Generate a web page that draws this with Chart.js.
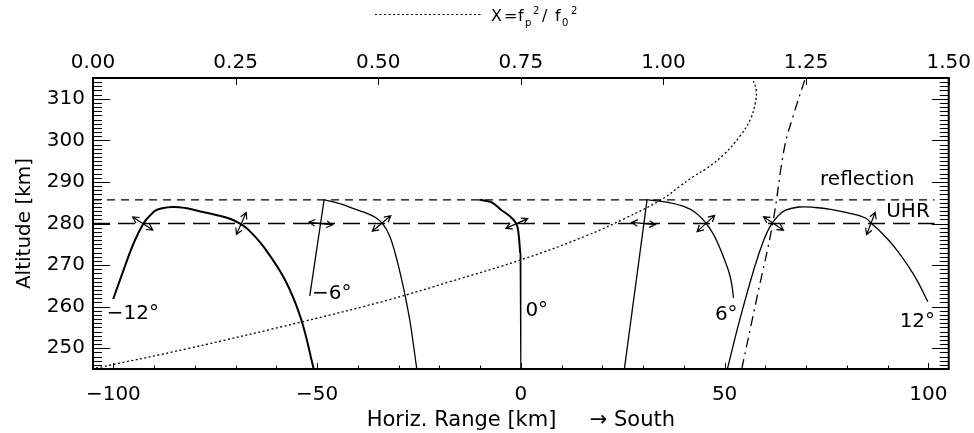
<!DOCTYPE html>
<html>
<head>
<meta charset="utf-8">
<script src="https://cdn.jsdelivr.net/npm/chart.js@4.4.1/dist/chart.umd.min.js"></script>
<style>
  html, body { margin: 0; padding: 0; background: #fff; }
</style>
</head>
<body>
<canvas id="chart" width="974" height="433"></canvas>
<script>
// tick values
var yTicks = [250, 260, 270, 280, 290, 300, 310];
var xTicks = [-100, -50, 0, 50, 100];
var x2Ticks = [0, 0.25, 0.5, 0.75, 1.0, 1.25, 1.5];

// horizontal levels [km]
var reflectionAlt = 285.7;
var uhrAlt = 280;
var levelRange = [-105, 101.5];

// ray paths: [horizontal range km, altitude km]
var rayM12 = [[-100.05, 261.84], [-97.46, 268.9], [-95.0, 275.31], [-92.56, 280.12], [-90.93, 282.0],
  [-89.29, 283.32], [-85.62, 283.97], [-82.36, 283.73], [-78.69, 282.91], [-75.02, 282.12], [-71.36, 281.15],
  [-68.49, 279.71], [-66.46, 278.1], [-63.21, 274.49], [-57.9, 266.48], [-54.0, 257.2], [-50.83, 245.0]];
var rayM6up = [[-51.8, 262.6], [-48.29, 285.72]];
var rayM6down = [[-48.29, 285.72], [-44.45, 284.76], [-40.36, 283.32], [-37.6, 282.36], [-35.47, 281.32],
  [-33.93, 279.95], [-32.22, 277.06], [-30.75, 272.49], [-29.53, 267.68], [-28.3, 262.15], [-27.08, 255.65],
  [-25.54, 245.0]];
var ray0top = [[-10.2, 285.72], [-7.27, 285.12], [-4.89, 283.32], [-3.35, 282.24], [-2.05, 281.15],
  [-1.27, 280.19], [-0.78, 278.99], [-0.42, 276.1], [-0.17, 272.9]];
var ray0bottom = [[-0.17, 272.9], [-0.02, 262], [0, 245]];
var rayP6up = [[25.4, 245], [30.97, 285.72]];
var rayP6down = [[30.97, 285.72], [35.79, 285.12], [39.95, 284.11], [42.88, 282.6], [45.4, 280.12],
  [47.16, 277.55], [48.68, 274.49], [49.98, 271.29], [51.13, 268.09], [51.81, 265.04], [52.18, 262.08]];
var rayP12 = [[50.68, 245.0], [53.72, 256.86], [57.31, 269.37], [59.64, 276.1], [61.35, 279.59], [63.06, 281.75],
  [64.97, 283.2], [68.25, 283.97], [72.24, 283.85], [76.39, 283.32], [80.55, 282.48], [84.54, 281.32],
  [86.18, 279.88], [88.14, 278.15], [90.26, 275.96], [92.54, 273.26], [95.16, 269.65], [97.43, 265.97],
  [99.88, 261.16]];

// dash-dot curve [km, km]
var dashDot = [[54.2, 245], [58, 262.5], [61.8, 280], [64.7, 298.4], [66.8, 305.8], [69.7, 314.6]];

// X = fp^2/f0^2 (top axis) vs altitude
var plasmaX = [[0.005, 245.2], [0.169, 250], [0.368, 256.4], [0.52, 261.7], [0.628, 266.1], [0.751, 271.3],
  [0.862, 276.9], [0.932, 281.2], [0.996, 285.7], [1.028, 288.9], [1.0526, 291.3], [1.076, 293.3],
  [1.105, 296.5], [1.134, 301], [1.152, 305], [1.161, 309], [1.1625, 312.2], [1.1577, 314.2]];

// arrows at the UHR crossings: range km and direction (deg)
var arrowX = [-92.8, -68.6, -49.1, -34.2, -1.0, 30.1, 45.4, 62.0, 85.9];
var arrowAngle = [-33, 66, -7, 40, 24, -5, 43, -34, 69];

// curve labels
var labelText = ['\u221212\u00b0', '\u22126\u00b0', '0\u00b0', '6\u00b0', '12\u00b0', 'reflection', 'UHR'];
var labelX = [-95.2, -46.4, 3.9, 50.4, 97.3, 85, 95];
var labelAlt = [258.3, 263.1, 259, 258, 256.4, 290.5, 282.8];

function pts(arr) {
  return arr.map(function (p) { return { x: p[0], y: p[1] }; });
}

var FONT = 'DejaVu Sans';

function line(ds, w, dash, axis, mode) {
  return {
    data: pts(ds),
    showLine: true,
    borderColor: '#000',
    borderWidth: w,
    borderDash: dash || [],
    pointRadius: 0,
    tension: mode === 'straight' ? 0 : 0.4,
    xAxisID: axis || 'x',
    yAxisID: 'y'
  };
}

var framePlugin = {
  id: 'frame',
  afterDatasetsDraw: function (chart) {
    var ctx = chart.ctx;
    var a = chart.chartArea;
    var sx = chart.scales.x, sy = chart.scales.y, sx2 = chart.scales.x2;
    ctx.save();
    ctx.strokeStyle = '#000';

    // arrows
    ctx.lineWidth = 1.2;
    for (var i = 0; i < arrowX.length; i++) {
      var cx = sx.getPixelForValue(arrowX[i]);
      var cy = sy.getPixelForValue(uhrAlt);
      var ang = arrowAngle[i] * Math.PI / 180;
      var dx = Math.cos(ang) * 12, dy = -Math.sin(ang) * 12;
      var x1 = cx - dx, y1 = cy - dy, x2 = cx + dx, y2 = cy + dy;
      ctx.beginPath();
      ctx.moveTo(x1, y1); ctx.lineTo(x2, y2);
      var th = Math.atan2(y2 - y1, x2 - x1);
      [[x2, y2, th], [x1, y1, th + Math.PI]].forEach(function (e) {
        ctx.moveTo(e[0] - 7 * Math.cos(e[2] - 0.5), e[1] - 7 * Math.sin(e[2] - 0.5));
        ctx.lineTo(e[0], e[1]);
        ctx.lineTo(e[0] - 7 * Math.cos(e[2] + 0.5), e[1] - 7 * Math.sin(e[2] + 0.5));
      });
      ctx.stroke();
    }

    // curve labels
    ctx.fillStyle = '#000';
    ctx.font = '20px "' + FONT + '"';
    ctx.textAlign = 'center';
    ctx.textBaseline = 'middle';
    for (var j = 0; j < labelText.length; j++) {
      ctx.fillText(labelText[j], sx.getPixelForValue(labelX[j]), sy.getPixelForValue(labelAlt[j]));
    }

    // inward ticks
    ctx.lineWidth = 1;
    ctx.beginPath();
    for (var v = 246; v <= 314; v++) {
      var py = Math.round(sy.getPixelForValue(v)) + 0.5;
      var len = v % 10 === 0 ? 17 : 9;
      ctx.moveTo(a.left, py); ctx.lineTo(a.left + len, py);
      ctx.moveTo(a.right, py); ctx.lineTo(a.right - len, py);
    }
    for (var k = -100; k <= 100; k += 10) {
      var px = Math.round(sx.getPixelForValue(k)) + 0.5;
      ctx.moveTo(px, a.bottom); ctx.lineTo(px, a.bottom - (k % 50 === 0 ? 6 : 3.5));
    }
    x2Ticks.forEach(function (t) {
      var p2 = Math.round(sx2.getPixelForValue(t)) + 0.5;
      ctx.moveTo(p2, a.top); ctx.lineTo(p2, a.top + 7);
    });
    ctx.stroke();

    // frame
    ctx.lineWidth = 2;
    ctx.strokeRect(a.left, a.top, a.right - a.left, a.bottom - a.top);

    // legend
    ctx.lineWidth = 1.2;
    ctx.setLineDash([2, 2.5]);
    ctx.beginPath();
    ctx.moveTo(375, 14.5); ctx.lineTo(482, 14.5);
    ctx.stroke();
    ctx.setLineDash([]);
    ctx.textAlign = 'left';
    ctx.textBaseline = 'alphabetic';
    var big = '16px "' + FONT + '"', small = '10px "' + FONT + '"';
    [['X', 491, 21, big], ['=', 504, 21, big], ['f', 518, 21, big], ['p', 525, 26, small], ['2', 533, 14, small],
     ['/', 542, 21, big], ['f', 555, 21, big], ['0', 562, 26, small], ['2', 571, 14, small]].forEach(function (s) {
      ctx.font = s[3];
      ctx.fillText(s[0], s[1], s[2]);
    });
    ctx.restore();
  }
};

var tickFont = { family: FONT, size: 20 };

new Chart(document.getElementById('chart'), {
  type: 'scatter',
  data: {
    datasets: [
      line(plasmaX, 1.3, [2, 2.5], 'x2'),
      line([[levelRange[0], reflectionAlt], [levelRange[1], reflectionAlt]], 1.3, [8, 6], 'x', 'straight'),
      line([[levelRange[0], uhrAlt], [levelRange[1], uhrAlt]], 1.3, [17, 8], 'x', 'straight'),
      line(rayM12, 2),
      line(rayM6up, 1.3, null, 'x', 'straight'),
      line(rayM6down, 1.3),
      line(ray0top, 2),
      line(ray0bottom, 1.2, null, 'x', 'straight'),
      line(rayP6up, 1.3, null, 'x', 'straight'),
      line(rayP6down, 1.3),
      line(rayP12, 1.3),
      line(dashDot, 1.3, [10, 5, 2, 5])
    ]
  },
  options: {
    responsive: false,
    animation: false,
    events: [],
    layout: { padding: { right: 24 } },
    plugins: { legend: { display: false }, tooltip: { enabled: false } },
    scales: {
      x: {
        type: 'linear', position: 'bottom', min: -105, max: 105,
        grid: { display: false, drawTicks: false }, border: { display: false },
        afterBuildTicks: function (s) { s.ticks = xTicks.map(function (v) { return { value: v }; }); },
        afterFit: function (s) { s.height = 64; },
        ticks: {
          color: '#000', font: tickFont, padding: 14, maxRotation: 0,
          callback: function (v) { return String(v).replace('-', '\u2212'); }
        },
        title: {
          display: true, text: 'Horiz. Range [km]     \u2192 South', color: '#000',
          font: { family: FONT, size: 21 }, padding: { top: 0, bottom: 0 }
        }
      },
      x2: {
        type: 'linear', position: 'top', min: 0, max: 1.5,
        grid: { display: false, drawTicks: false }, border: { display: false },
        afterBuildTicks: function (s) { s.ticks = x2Ticks.map(function (v) { return { value: v }; }); },
        afterFit: function (s) { s.height = 78; },
        ticks: {
          color: '#000', font: tickFont, padding: 3, maxRotation: 0,
          callback: function (v) { return Number(v).toFixed(2); }
        }
      },
      y: {
        type: 'linear', position: 'left', min: 245, max: 315,
        grid: { display: false, drawTicks: false }, border: { display: false },
        afterBuildTicks: function (s) { s.ticks = yTicks.map(function (v) { return { value: v }; }); },
        afterFit: function (s) { s.width = 93; },
        ticks: { color: '#000', font: tickFont, padding: 8 },
        title: {
          display: true, text: 'Altitude [km]', color: '#000',
          font: tickFont, padding: { top: 13, bottom: 0 }
        }
      }
    }
  },
  plugins: [framePlugin]
});
</script>
</body>
</html>
